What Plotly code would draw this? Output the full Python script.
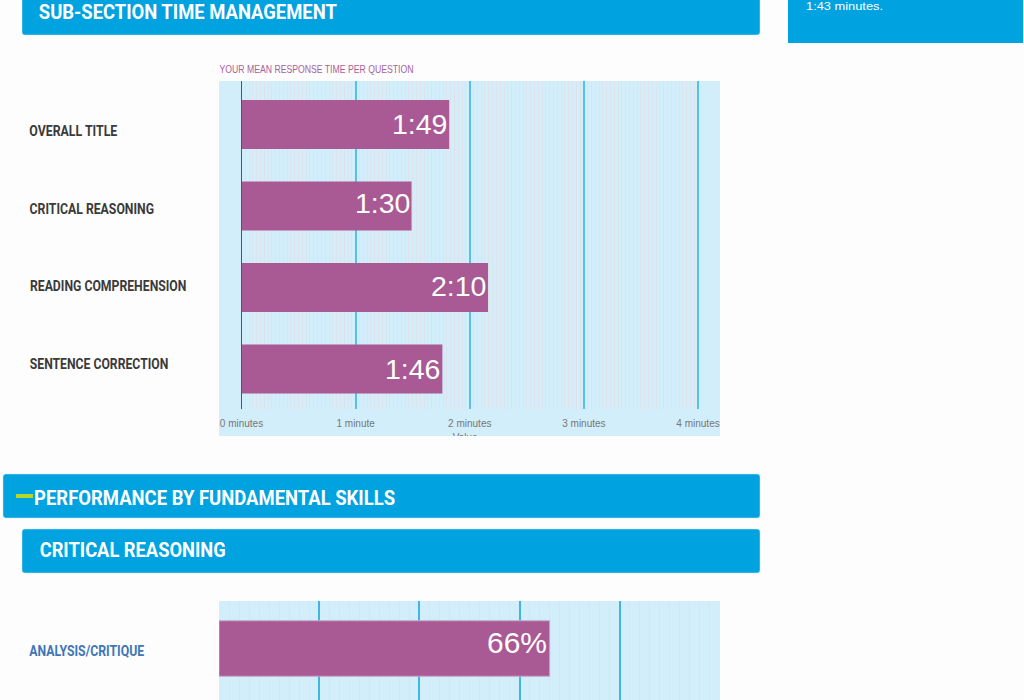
import json
import plotly.graph_objects as go

W, H = 1024, 700

# ---- data ----
time_categories = ["OVERALL TITLE", "CRITICAL REASONING", "READING COMPREHENSION", "SENTENCE CORRECTION"]
time_minutes = [1.82, 1.49, 2.16, 1.76]
time_labels = ["1:49", "1:30", "2:10", "1:46"]
time_tickvals = [0, 1, 2, 3, 4]
time_ticktext = ["0 minutes", "1 minute", "2 minutes", "3 minutes", "4 minutes"]

skill_categories = ["ANALYSIS/CRITIQUE"]
skill_percent = [66]
skill_labels = ["66%"]

# ---- styles ----
BLUE = "#00a3e0"
PURPLE = "#a95993"
PANEL = "#d2eefa"
GRID = "#55c0e9"
HEAD = "Roboto"
SANS = "Liberation Sans"

def px(v): return v / W
def py(v): return 1 - v / H

def round_rect(x0, y0, x1, y1, r=3):
    return (f"M{px(x0+r)},{py(y0)} L{px(x1-r)},{py(y0)} Q{px(x1)},{py(y0)} {px(x1)},{py(y0+r)} "
            f"L{px(x1)},{py(y1-r)} Q{px(x1)},{py(y1)} {px(x1-r)},{py(y1)} "
            f"L{px(x0+r)},{py(y1)} Q{px(x0)},{py(y1)} {px(x0)},{py(y1-r)} "
            f"L{px(x0)},{py(y0+r)} Q{px(x0)},{py(y0)} {px(x0+r)},{py(y0)} Z")

fig = go.Figure()

fig.add_trace(go.Bar(
    y=time_categories, x=time_minutes, orientation="h", width=0.6,
    marker=dict(color=PURPLE, line=dict(width=0)),
    xaxis="x", yaxis="y", showlegend=False, hoverinfo="skip", cliponaxis=True,
))
fig.add_trace(go.Bar(
    y=[0], x=skill_percent, orientation="h", width=0.6,
    marker=dict(color=PURPLE, line=dict(color="#c9a5c6", width=1)),
    xaxis="x2", yaxis="y2", showlegend=False, hoverinfo="skip", cliponaxis=True,
))
# clipped axis title peeking out at the bottom of the panel
fig.add_trace(go.Scatter(
    x=[1.96], y=[0.1], mode="text", text=["Value"], textposition="bottom center",
    textfont=dict(family=SANS, size=10, color="#777777"),
    xaxis="x3", yaxis="y3", showlegend=False, hoverinfo="skip", cliponaxis=True,
))

shapes = []
def paper_rect(x0, y0, x1, y1, color):
    shapes.append(dict(type="rect", xref="paper", yref="paper", x0=px(x0), x1=px(x1),
                       y0=py(y1), y1=py(y0), fillcolor=color, line_width=0, layer="below"))
def paper_round(x0, y0, x1, y1, color):
    shapes.append(dict(type="path", xref="paper", yref="paper", path=round_rect(x0, y0, x1, y1),
                       fillcolor=color, line=dict(color="#cfe3ee", width=0.5), layer="below"))

paper_round(22, -8, 760, 35, BLUE)
paper_round(3, 474, 760, 518, BLUE)
paper_round(22, 529, 760, 573, BLUE)
paper_rect(788, -2, 1023, 43, BLUE)
paper_rect(219, 81, 720, 436, PANEL)
paper_rect(219, 601, 720, 702, PANEL)
shapes.append(dict(type="rect", xref="paper", yref="paper", x0=px(16), x1=px(33), y0=py(498), y1=py(494),
                   fillcolor="#b9d62e", line_width=0, layer="above"))

annotations = []
fitted = []
def label(x, y, text, family, size, color, weight=400, width=None):
    # width: horizontal extent the text is fitted to (condensed face is not available)
    annotations.append(dict(xref="paper", yref="paper", x=px(x + width / 2), y=py(y), text=text,
                            showarrow=False, xanchor="center", yanchor="middle",
                            font=dict(family=family, size=size, color=color, weight=weight)))
    fitted.append(width)

label(39, 12, "SUB-SECTION TIME MANAGEMENT", HEAD, 20, "white", 700, 298)
label(34, 498, "PERFORMANCE BY FUNDAMENTAL SKILLS", HEAD, 20, "white", 700, 361)
label(39.5, 550, "CRITICAL REASONING", HEAD, 20, "white", 700, 186)
label(806, 6, "1:43 minutes.", SANS, 11.5, "white", 400, 77)
label(219.5, 69, "YOUR MEAN RESPONSE TIME PER QUESTION", SANS, 10.5, "#a8619a", 400, 194)

time_label_y = [131, 209, 286, 364]
time_label_w = [88, 124.5, 156.5, 138.5]
for c, y, w in zip(time_categories, time_label_y, time_label_w):
    label(29.5, y, c, HEAD, 15.5, "#3a3a3a", 700, w)
for c in skill_categories:
    label(29.5, 651, c, HEAD, 15.5, "#3d76b5", 700, 115)

# value labels, inside the bar ends
time_text_lift = [1, 3, 1, 0]
for c, v, t, lift in zip(time_categories, time_minutes, time_labels, time_text_lift):
    annotations.append(dict(xref="x", yref="y", x=v, y=c, text=t, showarrow=False, xanchor="right",
                            yanchor="middle", xshift=0, yshift=lift,
                            font=dict(family=SANS, size=28.5, color="white")))
for v, t in zip(skill_percent, skill_labels):
    annotations.append(dict(xref="x2", yref="y2", x=v, y=0, text=t, showarrow=False, xanchor="right",
                            yanchor="middle", xshift=-1, yshift=6,
                            font=dict(family=SANS, size=30, color="white")))

# the time axis runs a hair past 4 minutes so that its last gridline is kept
TIME_RANGE = [0, 4.02]
TIME_DOMAIN = [px(241.5), px(700.3)]

fig.update_layout(
    width=W, height=H, autosize=False,
    margin=dict(l=0, r=0, t=0, b=0, autoexpand=False),
    paper_bgcolor="#fdfdfd", plot_bgcolor="rgba(0,0,0,0)",
    barmode="overlay", showlegend=False, shapes=shapes, annotations=annotations,
    xaxis=dict(domain=TIME_DOMAIN, range=TIME_RANGE, anchor="y", side="bottom",
               tickmode="array", tickvals=time_tickvals, ticktext=time_ticktext, ticks="", ticklabelstandoff=7,
               tickfont=dict(family=SANS, size=10, color="#777777"),
               showgrid=True, gridcolor=GRID, gridwidth=1.6, zeroline=False, showline=False,
               minor=dict(dtick=1/30, tick0=0, showgrid=True, gridcolor="rgba(240,205,210,0.35)", gridwidth=1, ticks="")),
    yaxis=dict(domain=[py(409), py(81)], range=[3.491, -0.534], type="category",
               categoryorder="array", categoryarray=time_categories, anchor="x",
               showticklabels=False, ticks="", showgrid=False, zeroline=False,
               showline=True, linecolor="#555555", linewidth=1),
    xaxis2=dict(domain=[px(219), px(720)], range=[0, 100], anchor="y2", dtick=20, showticklabels=False, ticks="",
                showgrid=True, gridcolor="#3fb5e5", gridwidth=1.5, zeroline=False, showline=False,
                minor=dict(dtick=2, tick0=0, showgrid=True, gridcolor="rgba(225,215,225,0.5)", gridwidth=1, ticks="")),
    yaxis2=dict(domain=[0, py(601)], range=[0.557, -0.514], type="linear", anchor="x2",
                showticklabels=False, ticks="", showgrid=False, zeroline=False, showline=False),
    xaxis3=dict(domain=TIME_DOMAIN, range=TIME_RANGE, anchor="y3", visible=False, showgrid=False, fixedrange=True),
    yaxis3=dict(domain=[py(436), py(409)], range=[0, 1], anchor="x3", visible=False, showgrid=False, fixedrange=True),
)

post = """
document.body.style.margin='0';
document.body.style.overflow='hidden';
document.documentElement.style.overflow='hidden';
var fit = %s;
document.querySelectorAll('.annotation-text').forEach(function(el, i){
  var w = fit[i];
  if (w) { el.setAttribute('textLength', w); el.setAttribute('lengthAdjust', 'spacingAndGlyphs'); }
});
""" % json.dumps(fitted)

fig.write_html("out.html", config=dict(displayModeBar=False), post_script=post)
